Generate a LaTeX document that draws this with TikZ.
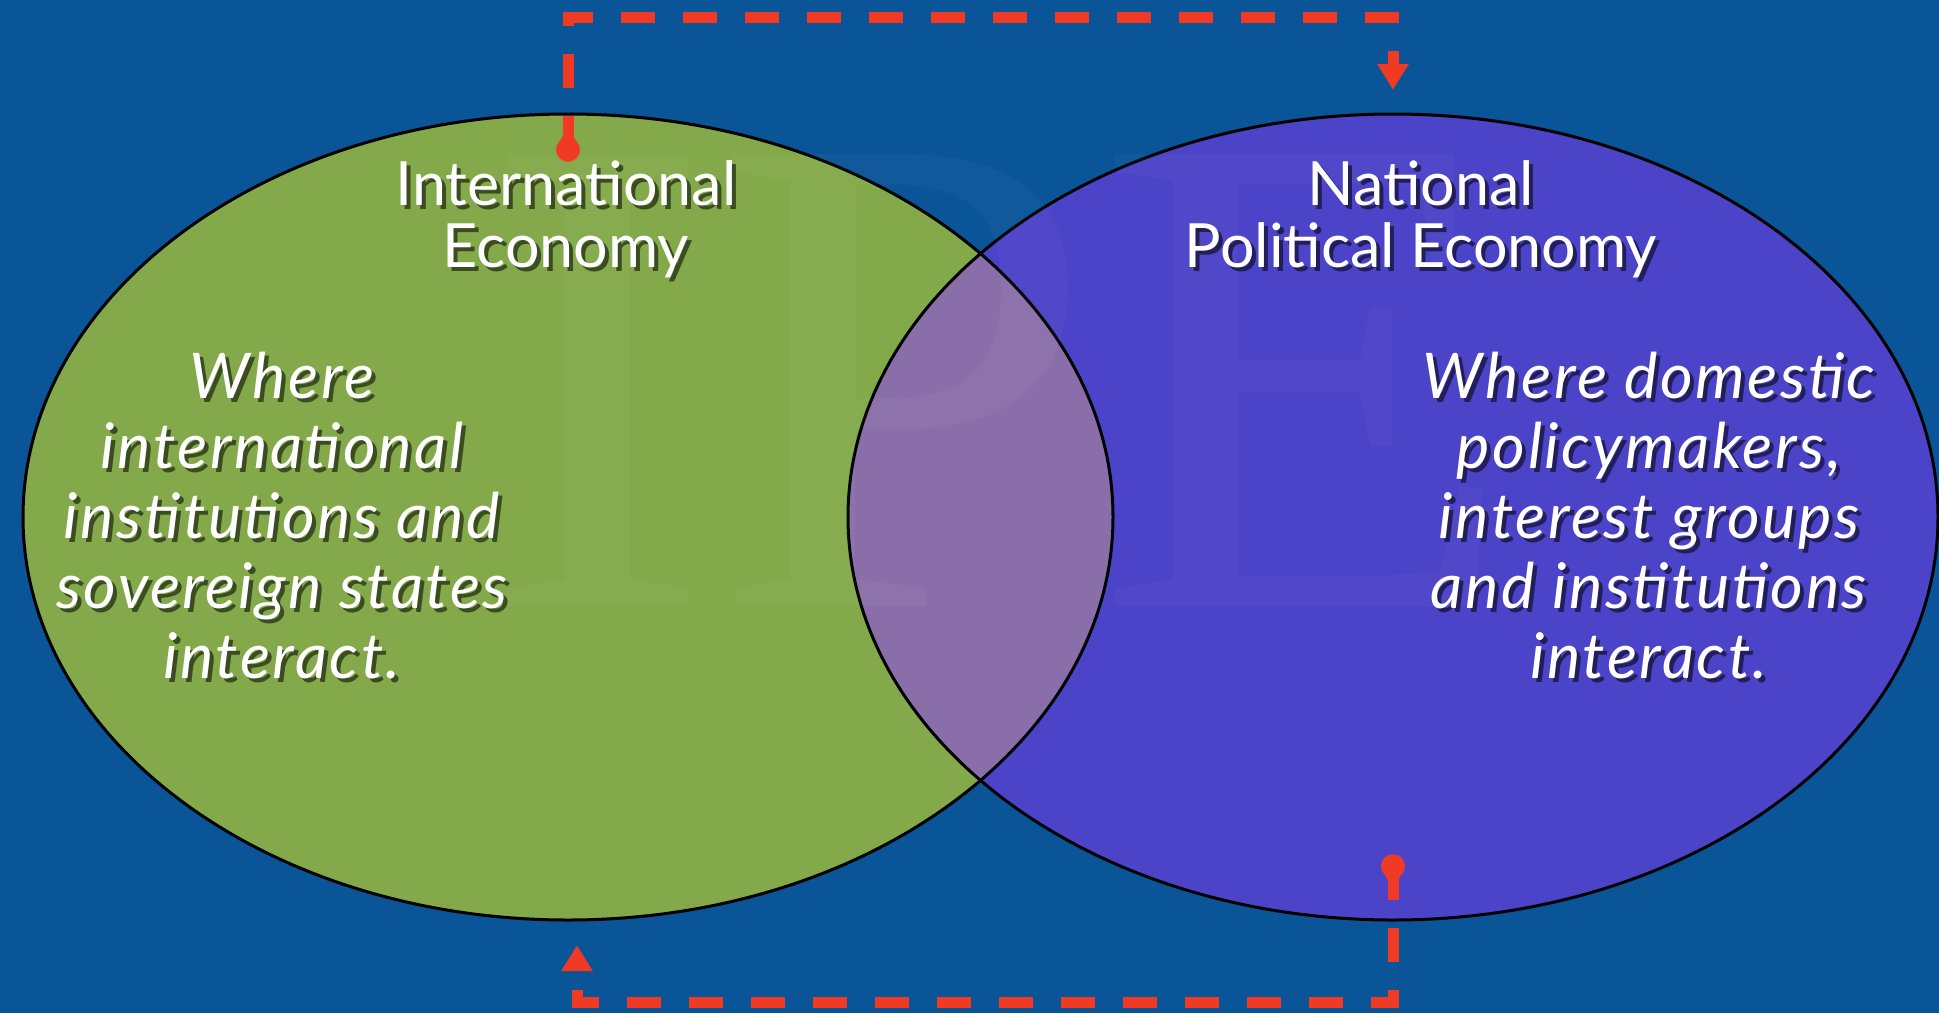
\documentclass[tikz,border=0pt]{standalone}
\usepackage{fontspec}
\setmainfont{Lato}
\newfontfamily\wmfont{Liberation Serif}
\usetikzlibrary{arrows.meta,shapes.geometric}

\definecolor{bgblue}{RGB}{10,84,152}
\definecolor{ieGreen}{RGB}{132,169,74}
\definecolor{npePurple}{RGB}{75,67,200}
\definecolor{overlapMauve}{RGB}{138,110,170}
\definecolor{flowRed}{RGB}{240,58,36}
\colorlet{ieShadow}{black!55!ieGreen}
\colorlet{npeShadow}{black!55!npePurple}

% one line of text with a dark drop shadow behind it
\newcommand{\dropline}[2]{\makebox[0pt][l]{\kern4pt\raisebox{-4pt}{\color{#1}#2}}#2}

\tikzset{
  circ/.style={ellipse, minimum width=1090pt, minimum height=806pt, inner sep=0pt},
  rim/.style={draw=black, line width=3pt},
  title/.style={text=white, font=\fontsize{61}{62}\selectfont, align=center, inner sep=0pt},
  body/.style={text=white, font=\fontsize{63}{70}\selectfont\itshape\addfontfeatures{LetterSpace=4}, align=center, inner sep=0pt},
  flow/.style={draw=flowRed, line width=11pt, dash pattern=on 34pt off 28pt},
  tip/.style={-{Triangle[length=26pt,width=30pt]}},
  drop/.style={fill=flowRed},
}

\begin{document}
\begin{tikzpicture}[x=1pt,y=-1pt]
\useasboundingbox (0,0) rectangle (1939,1013);
\fill[bgblue] (0,0) rectangle (1939,1013);

% the two overlapping fields
\node[circ, fill=ieGreen] (ie) at (568,517) {};
\node[circ, fill=npePurple] (npe) at (1393,517) {};
\begin{scope}
  \clip (568,517) ellipse [x radius=545pt, y radius=403pt];
  \fill[overlapMauve] (1393,517) ellipse [x radius=545pt, y radius=403pt];
\end{scope}
\draw[rim] (568,517) ellipse [x radius=545pt, y radius=403pt];
\draw[rim] (1393,517) ellipse [x radius=545pt, y radius=403pt];

% faint background lettering
\node[text=white, opacity=0.03, font=\wmfont\fontsize{690}{690}\selectfont, inner sep=0pt, anchor=base] (wm) at (1000,606) {IPE};

% titles
\node[title] (iet) at (566,221) {\dropline{ieShadow}{International}\\\dropline{ieShadow}{Economy}};
\node[title] (npet) at (1421,221) {\dropline{npeShadow}{National}\\\dropline{npeShadow}{Political Economy}};

% descriptions
\node[body] (ieb) at (282,518) {\dropline{ieShadow}{Where}\\\dropline{ieShadow}{international}\\\dropline{ieShadow}{institutions and}\\\dropline{ieShadow}{sovereign states}\\\dropline{ieShadow}{interact.}};
\node[body] (npeb) at (1649,518) {\dropline{npeShadow}{Where domestic}\\\dropline{npeShadow}{policymakers,}\\\dropline{npeShadow}{interest groups}\\\dropline{npeShadow}{and institutions}\\\dropline{npeShadow}{interact.}};

% feedback loop: upper branch
\coordinate (ieout) at ([yshift=-36pt]ie.north);
\coordinate (npein) at ([yshift=24pt]npe.north);
\coordinate (tl) at (ieout |- 0,17);
\coordinate (tr) at (npein |- 0,17);
\draw[flow, tip] (ieout) -- (tl) -- (tr) -- (npein);
\fill[drop] (ieout) circle[radius=12pt];
\fill[drop] ([xshift=-11pt,yshift=3pt]ieout) -- ([yshift=24pt]ieout) -- ([xshift=11pt,yshift=3pt]ieout) -- cycle;

% feedback loop: lower branch
\coordinate (npeout) at ([yshift=54pt]npe.south);
\coordinate (iein) at ([xshift=9pt,yshift=-25pt]ie.south);
\coordinate (br) at (npeout |- 0,1002);
\coordinate (bl) at (iein |- 0,1002);
\draw[flow, tip] (npeout) -- (br) -- (bl) -- (iein);
\fill[drop] (npeout) circle[radius=12pt];
\fill[drop] ([xshift=-11pt,yshift=-3pt]npeout) -- ([yshift=-24pt]npeout) -- ([xshift=11pt,yshift=-3pt]npeout) -- cycle;
\end{tikzpicture}
\end{document}
